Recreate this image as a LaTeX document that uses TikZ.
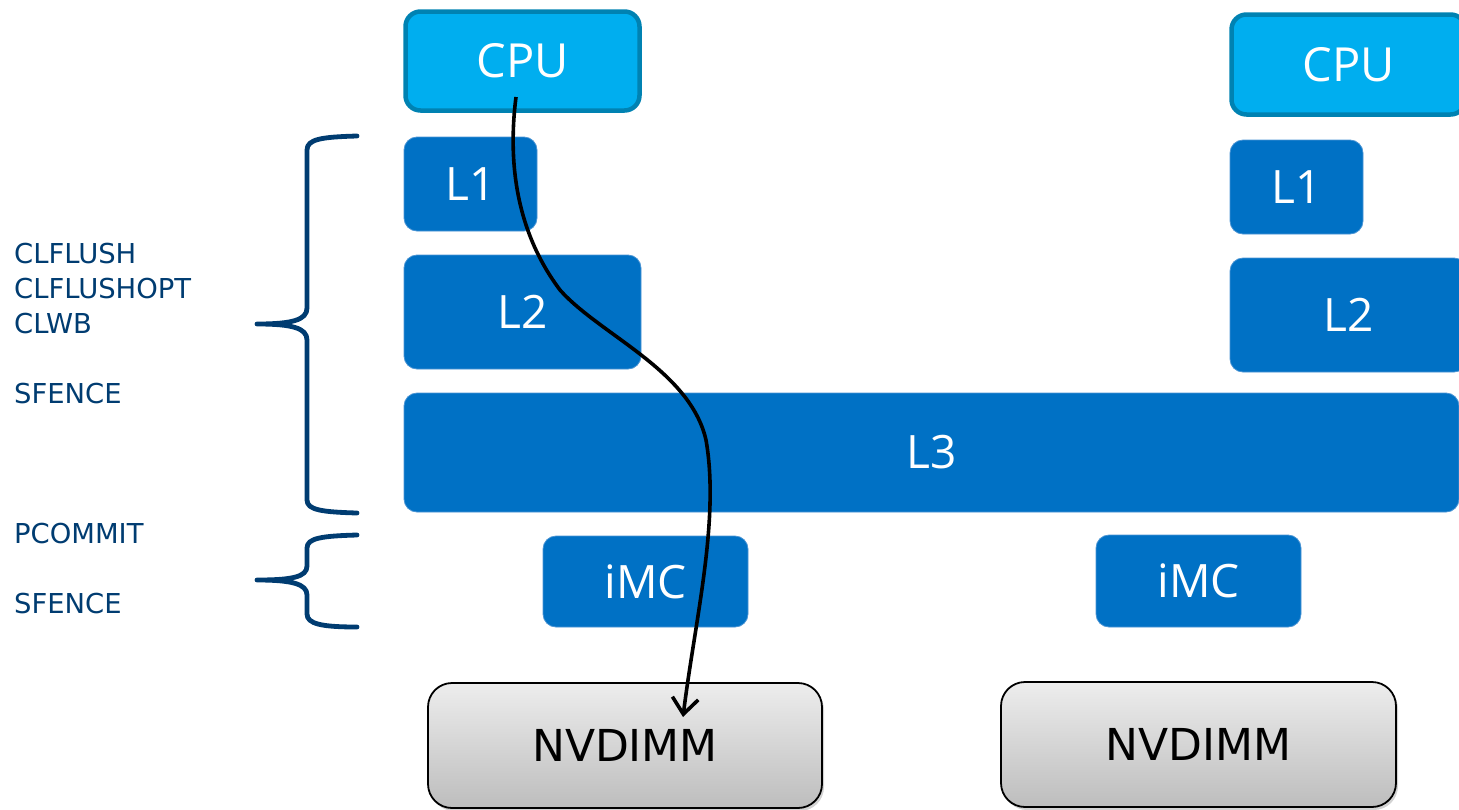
\documentclass[tikz,border=0pt]{standalone}
\usepackage{fontspec}
\setmainfont{Open Sans}
\newfontfamily\dimmfont{DejaVu Sans}
\usetikzlibrary{arrows.meta,shadows}
\definecolor{cpufill}{HTML}{00AEEF}
\definecolor{cpuedge}{HTML}{0082B2}
\definecolor{cachefill}{HTML}{0071C5}
\definecolor{cacheedge}{HTML}{4A94D4}
\definecolor{instr}{HTML}{003C71}
\definecolor{dimmtop}{HTML}{EDEDED}
\definecolor{dimmbot}{HTML}{BDBDBD}
\tikzset{
  cpubox/.style={draw=cpuedge, line width=4.5pt, fill=cpufill, rounded corners=15pt,
    inner sep=0pt, text=white, font=\fontsize{47}{50}\selectfont},
  cachebox/.style={draw=cacheedge, line width=0.8pt, fill=cachefill, rounded corners=13pt,
    inner sep=0pt, text=white, font=\fontsize{46}{50}\selectfont},
  dimmbox/.style={draw=black, line width=1.8pt, rounded corners=24pt,
    top color=dimmtop, bottom color=dimmbot, inner sep=0pt,
    drop shadow={opacity=0.35, shadow xshift=2pt, shadow yshift=-3pt},
    font=\dimmfont\fontsize{44}{48}\selectfont},
  instrtext/.style={anchor=base west, inner sep=0pt, text=instr,
    font=\dimmfont\fontsize{27.4}{30}\selectfont},
  bracepath/.style={draw=instr, line width=4.8pt, line cap=round, line join=round},
  flow/.style={draw=black, line width=3.6pt, -{Straight Barb[length=16pt,width=26pt]}}
}
\begin{document}
\begin{tikzpicture}[x=1pt,y=-1pt]
\useasboundingbox (0,0) rectangle (1459,809);
\clip (0,0) rectangle (1459,809);

% left core stack
\node[cpubox, minimum width=234pt, minimum height=99pt] (cpuL) at (522.5,61) {CPU};
\node[cachebox, minimum width=133pt, minimum height=94pt] (l1L) at (470.5,184) {L1};
\node[cachebox, minimum width=237pt, minimum height=114pt] (l2L) at (522.5,312) {L2};

% right core stack
\node[cpubox, minimum width=234pt, minimum height=100pt] (cpuR) at (1348.5,64.5) {CPU};
\node[cachebox, minimum width=133pt, minimum height=94pt] (l1R) at (1296.5,187) {L1};
\node[cachebox, minimum width=237pt, minimum height=114pt] (l2R) at (1348.5,315) {L2};

% shared last-level cache
\node[cachebox, minimum width=1055pt, minimum height=119pt] (l3) at (931.5,452.5) {L3};

% memory controllers
\node[cachebox, minimum width=205pt, minimum height=91pt] (imcL) at (645.5,581.5) {iMC};
\node[cachebox, minimum width=205pt, minimum height=92pt] (imcR) at (1198.5,581) {iMC};

% persistent memory modules
\node[dimmbox, minimum width=394pt, minimum height=125pt] (nvL) at (625,745.5) {NVDIMM};
\node[dimmbox, minimum width=395pt, minimum height=125pt] (nvR) at (1198.5,744.5) {NVDIMM};

% instruction labels
\node[instrtext] (tClflush) at (14,263) {CLFLUSH};
\node[instrtext] (tClflushopt) at (14,298) {CLFLUSHOPT};
\node[instrtext] (tClwb) at (14,333) {CLWB};
\node[instrtext] (tSfenceA) at (14,403) {SFENCE};
\node[instrtext] (tPcommit) at (14,543) {PCOMMIT};
\node[instrtext] (tSfenceB) at (14,613) {SFENCE};

% braces grouping the cache levels and the memory controller
\path[bracepath] (357,136) .. controls (322,137) and (307,139) .. (307,150)
  -- (307,308) .. controls (307,320) and (292,324) .. (257,324)
  .. controls (292,324) and (307,328) .. (307,340)
  -- (307,500) .. controls (307,510) and (322,512) .. (357,513);
\path[bracepath] (357,535) .. controls (322,536) and (307,538) .. (307,548)
  -- (307,566) .. controls (307,577) and (292,580) .. (257,580)
  .. controls (292,580) and (307,584) .. (307,595)
  -- (307,614) .. controls (307,624) and (322,627) .. (357,627);

% write path from the core down to the NVDIMM
\coordinate (src) at (516,97);
\coordinate (mid1) at (560,290);
\coordinate (mid2) at (706,440);
\coordinate (dst) at (683,717);
\draw[flow] (src) .. controls (508,160) and (515,230) .. (mid1)
  .. controls (600,335) and (690,370) .. (mid2)
  .. controls (720,520) and (695,620) .. (dst);
\end{tikzpicture}
\end{document}
